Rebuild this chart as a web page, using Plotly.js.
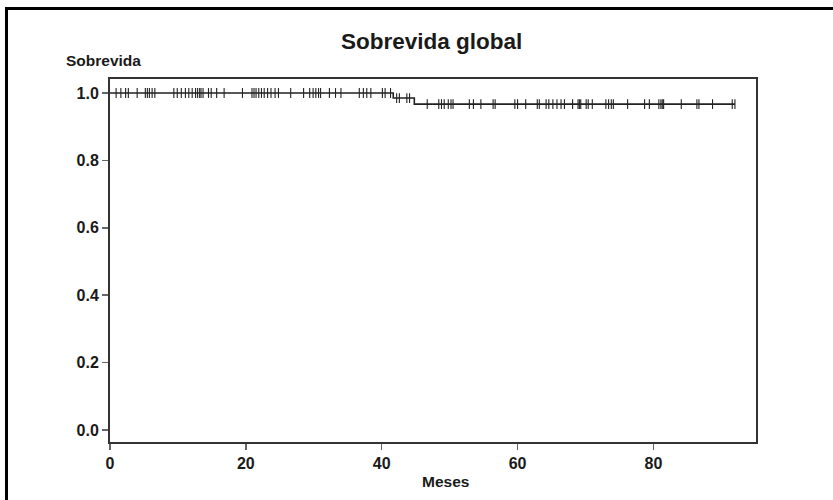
<!DOCTYPE html>
<html>
<head>
<meta charset="utf-8">
<script src="https://cdn.plot.ly/plotly-3.0.1.min.js"></script>
<style>
  html, body { margin: 0; padding: 0; width: 833px; height: 500px; overflow: hidden; background: #fff; }
  #frame { position: absolute; left: 5px; top: 7px; width: 900px; height: 600px; border-left: 3px solid #000; border-top: 3px solid #000; }
  #chart { position: absolute; left: 0; top: 0; width: 833px; height: 500px; }
</style>
</head>
<body>
<div id="frame"></div>
<div id="chart"></div>
<script>
// Kaplan-Meier step: event times and survival levels
const stepTimes = [0, 41.7, 44.8, 92.0];
const stepSurv  = [1.0, 0.985, 0.967, 0.967];

// Censoring times (months)
const censorTimes = [
  0.9, 1.6, 2.3, 2.7, 4.0, 5.2, 5.5, 5.8, 6.2, 6.6,
  9.4, 9.9, 10.5, 11.1, 11.6, 12.1, 12.6, 12.9, 13.2, 13.4, 13.7,
  14.5, 14.9, 15.7, 16.8, 19.5, 20.9, 21.2, 21.5, 21.9, 22.3, 22.7,
  23.2, 23.7, 24.3, 24.8, 26.6, 28.5, 29.4, 29.9, 30.3, 30.7, 31.0,
  32.3, 33.2, 34.0, 36.7, 37.3, 37.8, 38.4, 40.1, 40.5, 41.3,
  42.2, 42.6, 43.7, 44.1,
  46.7, 48.4, 48.8, 49.2, 49.8, 50.2, 50.5, 52.9, 53.5, 54.6, 56.4, 56.7,
  59.6, 60.0, 61.2, 62.9, 63.2, 64.2, 64.6, 65.2, 65.8, 66.4, 66.9,
  68.1, 68.9, 69.1, 69.3, 70.1, 70.4, 71.0, 73.0, 73.4, 73.8, 74.1,
  76.2, 78.7, 79.4, 80.8, 81.1, 81.3, 81.5, 84.1, 86.4, 86.7, 88.7, 91.6, 92.0
];

const xTicks = [0, 20, 40, 60, 80];
const yTicks = [0.0, 0.2, 0.4, 0.6, 0.8, 1.0];

function survAt(t) {
  let s = stepSurv[0];
  for (let i = 0; i < stepTimes.length; i++) {
    if (t >= stepTimes[i]) s = stepSurv[i];
  }
  return s;
}
const censorSurv = censorTimes.map(survAt);

const font = "'Liberation Sans', Arial, sans-serif";

const traces = [
  {
    x: stepTimes, y: stepSurv, type: 'scatter', mode: 'lines',
    line: { shape: 'hv', color: '#222', width: 1.6 },
    hoverinfo: 'skip'
  },
  {
    x: censorTimes, y: censorSurv, type: 'scatter', mode: 'markers',
    marker: { symbol: 'line-ns', size: 7, line: { color: '#222', width: 1.1 } },
    hoverinfo: 'skip'
  }
];

const layout = {
  width: 833, height: 500,
  margin: { l: 110, r: 77, t: 79, b: 58 },
  paper_bgcolor: 'rgba(0,0,0,0)',
  plot_bgcolor: 'rgba(0,0,0,0)',
  showlegend: false,
  font: { family: font, color: '#111', size: 14 },
  xaxis: {
    range: [0, 95.1], tickvals: xTicks, ticktext: xTicks.map(String),
    ticks: 'outside', ticklen: 6, tickcolor: '#666', tickwidth: 1.5,
    showgrid: false, zeroline: false,
    showline: true, linecolor: '#333', linewidth: 2, mirror: true,
    tickfont: { family: font, size: 16, weight: 'bold', color: '#1a1a1a' }
  },
  yaxis: {
    range: [-0.0356, 1.0415], tickvals: yTicks, ticktext: yTicks.map(v => v.toFixed(1)),
    ticks: 'outside', ticklen: 6, tickcolor: '#666', tickwidth: 1.5,
    showgrid: false, zeroline: false,
    showline: true, linecolor: '#333', linewidth: 2, mirror: true,
    tickfont: { family: font, size: 16, weight: 'bold', color: '#1a1a1a' }
  },
  annotations: [
    { text: 'Sobrevida global', xref: 'paper', yref: 'paper', x: 0.498, y: 1.0, yshift: 38,
      xanchor: 'center', yanchor: 'middle', showarrow: false,
      font: { family: font, size: 22.5, weight: 'bold', color: '#1a1a1a' } },
    { text: 'Sobrevida', xref: 'paper', yref: 'paper', x: 0, xshift: -46, y: 1.0, yshift: 19,
      xanchor: 'left', yanchor: 'middle', showarrow: false,
      font: { family: font, size: 15.5, weight: 'bold', color: '#1a1a1a' } },
    { text: 'Meses', xref: 'paper', yref: 'paper', x: 0.52, y: 0, yshift: -39,
      xanchor: 'center', yanchor: 'middle', showarrow: false,
      font: { family: font, size: 15.5, weight: 'bold', color: '#1a1a1a' } }
  ]
};

Plotly.newPlot('chart', traces, layout, { staticPlot: true, displayModeBar: false });
</script>
</body>
</html>
